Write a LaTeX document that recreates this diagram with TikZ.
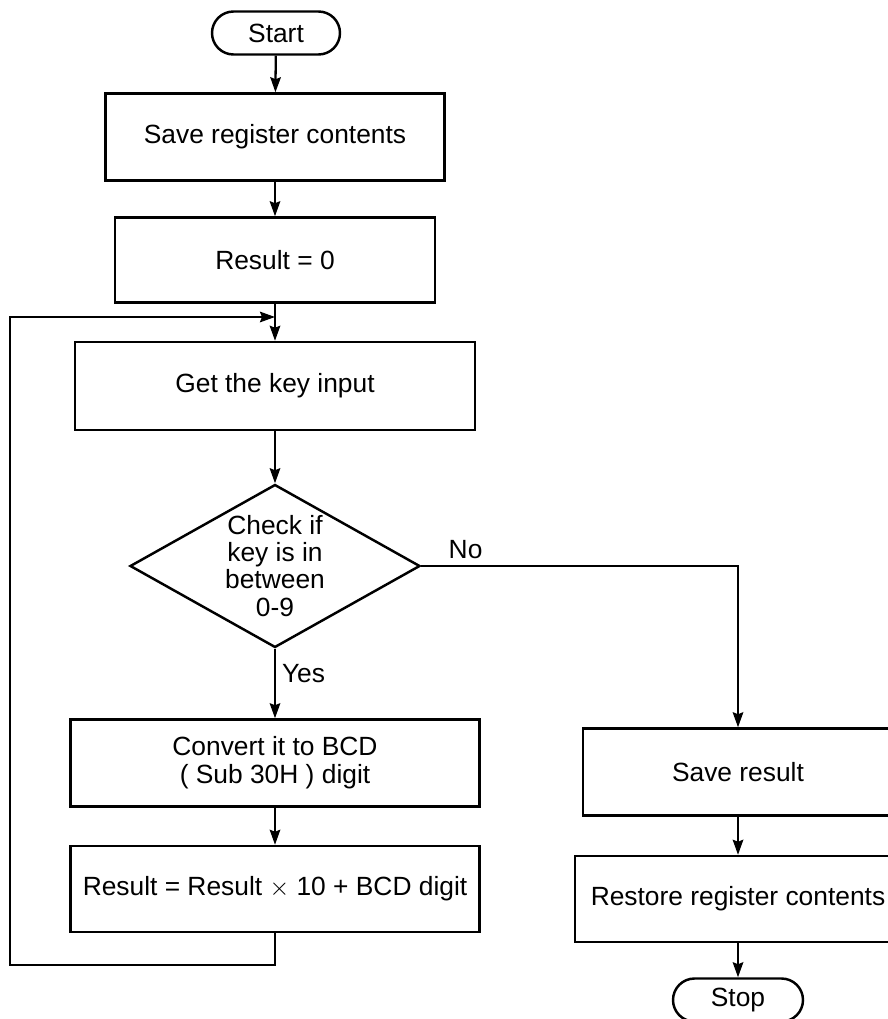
\documentclass[tikz,border=0pt]{standalone}
\usepackage{fontspec}
\setmainfont{Liberation Sans}
\usetikzlibrary{arrows.meta,positioning,shapes.geometric}

\begin{document}
\begin{tikzpicture}[
    x=0.2mm, y=-0.2mm, >={Stealth[length=3mm,width=2.1mm,inset=0.4mm]},
    box/.style={rectangle, draw, line width=1.4pt, minimum height=1.74cm, align=center, inner sep=2pt, font=\fontsize{15}{16}\selectfont},
    term/.style={rectangle, draw, line width=1.4pt, rounded corners=4.3mm, minimum width=2.56cm, minimum height=0.86cm, inner sep=1pt, font=\fontsize{15}{16}\selectfont},
    test/.style={diamond, draw, line width=1.4pt, aspect=1.78, minimum width=5.8cm, minimum height=3.26cm, inner sep=0pt, align=center, font=\fontsize{15}{15.4}\selectfont},
    lab/.style={font=\fontsize{15}{16}\selectfont},
    flow/.style={->, line width=1.3pt},
  ]
  \useasboundingbox (0,0) rectangle (887,1019);
  \node[term] (start) at (276,33) {Start};
  \node[box, minimum width=6.78cm] (save) at (275,137) {Save register contents};
  \node[box, minimum width=6.4cm, minimum height=1.7cm] (res0) at (275,260) {Result = 0};
  \node[box, minimum width=8cm, minimum height=1.76cm] (getkey) at (275,386) {Get the key input};
  \node[test] (check) at (275,566) {Check if\\key is in\\between\\0-9};
  \node[box, minimum width=8.18cm] (conv) at (275,763) {Convert it to BCD\\( Sub 30H ) digit};
  \node[box, minimum width=8.18cm, minimum height=1.72cm] (calc) at (275,889) {Result = Result $\times$ 10 + BCD digit};
  \node[box, minimum width=6.2cm] (saveres) at (738,772) {Save result};
  \node[box, minimum width=6.52cm, minimum height=1.72cm] (restore) at (738,899) {Restore register contents};
  \node[term, minimum width=2.6cm] (stop) at (738,1000) {Stop};
  \coordinate (join) at (275,317);
  \coordinate (lp) at (10,965);
  \draw[flow] (start) -- (save);
  \draw[flow] (save) -- (res0);
  \draw[flow] (res0) -- (getkey);
  \draw[flow] (getkey) -- (check);
  \draw[flow] (check) -- node[lab, right, pos=0.35] {Yes} (conv);
  \draw[flow] (conv) -- (calc);
  \draw[flow] (calc.south) |- (lp) |- (join);
  \draw[flow] (check.east) -| node[lab, above, pos=0.07] {No} (saveres.north);
  \draw[flow] (saveres) -- (restore);
  \draw[flow] (restore) -- (stop);
\end{tikzpicture}
\end{document}
